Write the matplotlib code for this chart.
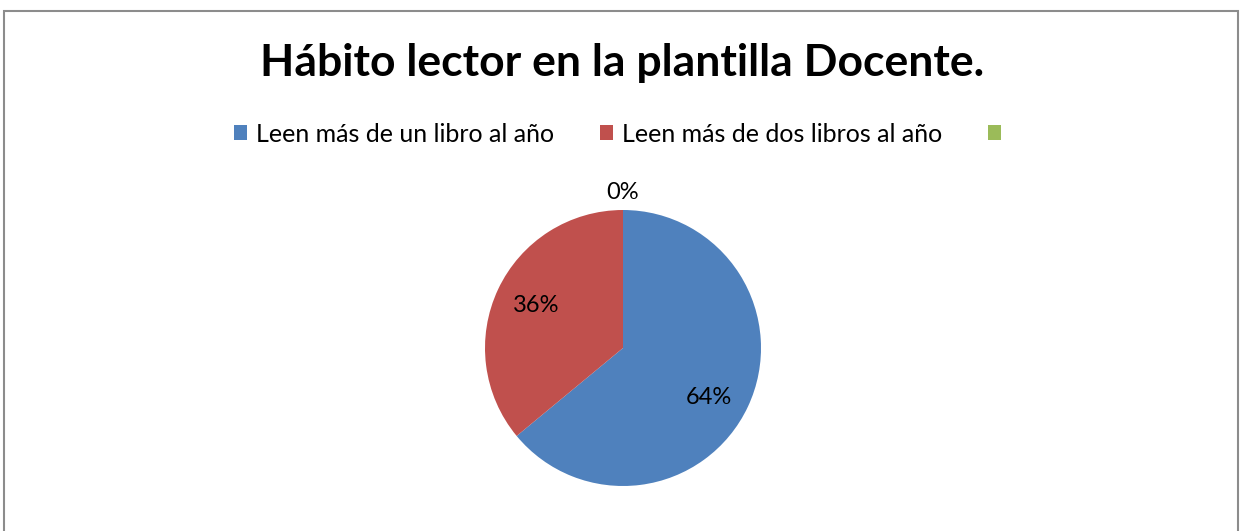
import matplotlib.pyplot as plt
from matplotlib.patches import Rectangle, Patch

labels = ["Leen más de un libro al año", "Leen más de dos libros al año", ""]
values = [64, 36, 0]
colors = ["#4F81BD", "#C0504D", "#9BBB59"]

plt.rcParams['font.family'] = ['Lato', 'DejaVu Sans']

W, H = 1240, 531
fig = plt.figure(figsize=(W / 100, H / 100), dpi=100)

# outer frame like the office chart border
fig.patches.append(Rectangle((4 / W, -0.05), 1234 / W, 1.05 - 11 / H, transform=fig.transFigure,
                             fill=False, edgecolor="#8c8c8c", linewidth=1.5))

cx, cy, r = 623, 348, 138
ax = fig.add_axes([(cx - r) / W, (H - cy - r) / H, 2 * r / W, 2 * r / H])
wedges, texts, autotexts = ax.pie(values, colors=colors, startangle=90, counterclock=False,
                                  autopct=lambda p: f"{p:.0f}%", pctdistance=0.7,
                                  textprops={'fontsize': 17, 'color': 'black'})
# label spots as placed in the original
autotexts[0].set_position((0.623, -0.36))
autotexts[1].set_position((-0.63, 0.31))
autotexts[2].set_position((0, 1.125))
ax.set_xlim(-1, 1)
ax.set_ylim(-1, 1)
ax.set_aspect('equal')
ax.axis('off')

fig.text(622 / W, 1 - 63 / H, "Hábito lector en la plantilla Docente.", ha='center', va='center',
         fontsize=32, fontweight='bold')

handles = [Patch(facecolor=c, edgecolor='none') for c in colors]
fig.legend(handles, labels, loc='center', bbox_to_anchor=(622 / W, 1 - 134 / H), ncol=3,
           frameon=False, fontsize=18, handlelength=0.52, handleheight=0.52, handletextpad=0.36,
           columnspacing=1.84)

fig.savefig("out.png", dpi=100)
